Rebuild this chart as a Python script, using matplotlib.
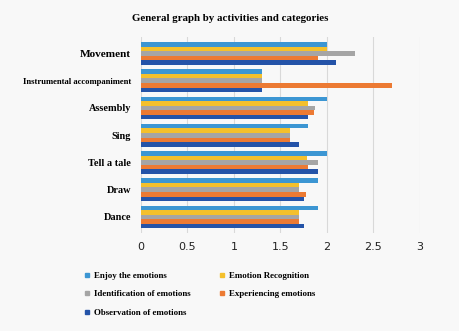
import matplotlib
matplotlib.use("Agg")
import matplotlib.pyplot as plt
from matplotlib.lines import Line2D
import numpy as np

categories = ["Movement", "Instrumental accompaniment", "Assembly", "Sing",
              "Tell a tale", "Draw", "Dance"]
series_names = ["Enjoy the emotions", "Emotion Recognition",
                "Identification of emotions", "Experiencing emotions",
                "Observation of emotions"]
enjoy = [2.0, 1.3, 2.0, 1.8, 2.0, 1.9, 1.9]
recognition = [2.0, 1.3, 1.8, 1.6, 1.78, 1.7, 1.7]
identification = [2.3, 1.3, 1.87, 1.6, 1.9, 1.7, 1.7]
experiencing = [1.9, 2.7, 1.86, 1.6, 1.8, 1.77, 1.7]
observation = [2.1, 1.3, 1.8, 1.7, 1.9, 1.75, 1.75]
colors = ["#3c96d3", "#f4c02c", "#a5a5a5", "#ec7a33", "#2453a8"]
xticks = [0, 0.5, 1, 1.5, 2, 2.5, 3]

bg = "#f8f8f8"
fig = plt.figure(figsize=(4.6, 3.31), dpi=100, facecolor=bg)
ax = fig.add_axes([0.3065, 0.295, 0.6065, 0.593], facecolor=bg)

y = np.arange(len(categories))
h = 0.168
all_series = [enjoy, recognition, identification, experiencing, observation]
for i, (vals, c) in enumerate(zip(all_series, colors)):
    ax.barh(y + (i - 2) * h, vals, height=h, color=c, zorder=3)

ax.set_xlim(0, 3)
ax.set_ylim(6.6, -0.6)
ax.set_xticks(xticks)
ax.set_xticklabels(["0", "0.5", "1", "1.5", "2", "2.5", "3"],
                   fontsize=8, color="#222222")
ax.set_yticks(y)
sizes = [8.1, 6.2, 7.4, 7.4, 7.4, 7.4, 7.4]
ax.set_yticklabels(categories, family="Liberation Serif", weight="bold")
for lab, s in zip(ax.get_yticklabels(), sizes):
    lab.set_fontsize(s)
ax.tick_params(axis="both", length=0)
ax.tick_params(axis="x", pad=6.5)
ax.tick_params(axis="y", pad=7)
ax.grid(axis="x", color="#d9d9d9", lw=0.8, zorder=0)
for s in ax.spines.values():
    s.set_visible(False)

fig.text(0.5, 0.945, "General graph by activities and categories",
         ha="center", va="center", family="Liberation Serif",
         weight="bold", fontsize=7.8)

order = [0, 2, 4, 1, 3]
handles = [Line2D([], [], ls="", marker="s", markersize=3.2,
                  color=colors[i]) for i in order]
labels = [series_names[i] for i in order]
fig.legend(handles, labels, ncol=2, loc="upper left",
           bbox_to_anchor=(0.172, 0.193), frameon=False,
           prop={"family": "Liberation Serif", "weight": "bold", "size": 6.4},
           handlelength=0.8, handletextpad=0.35, columnspacing=3.2,
           labelspacing=1.15, borderpad=0)

fig.savefig("out.png", dpi=100, facecolor=bg)
